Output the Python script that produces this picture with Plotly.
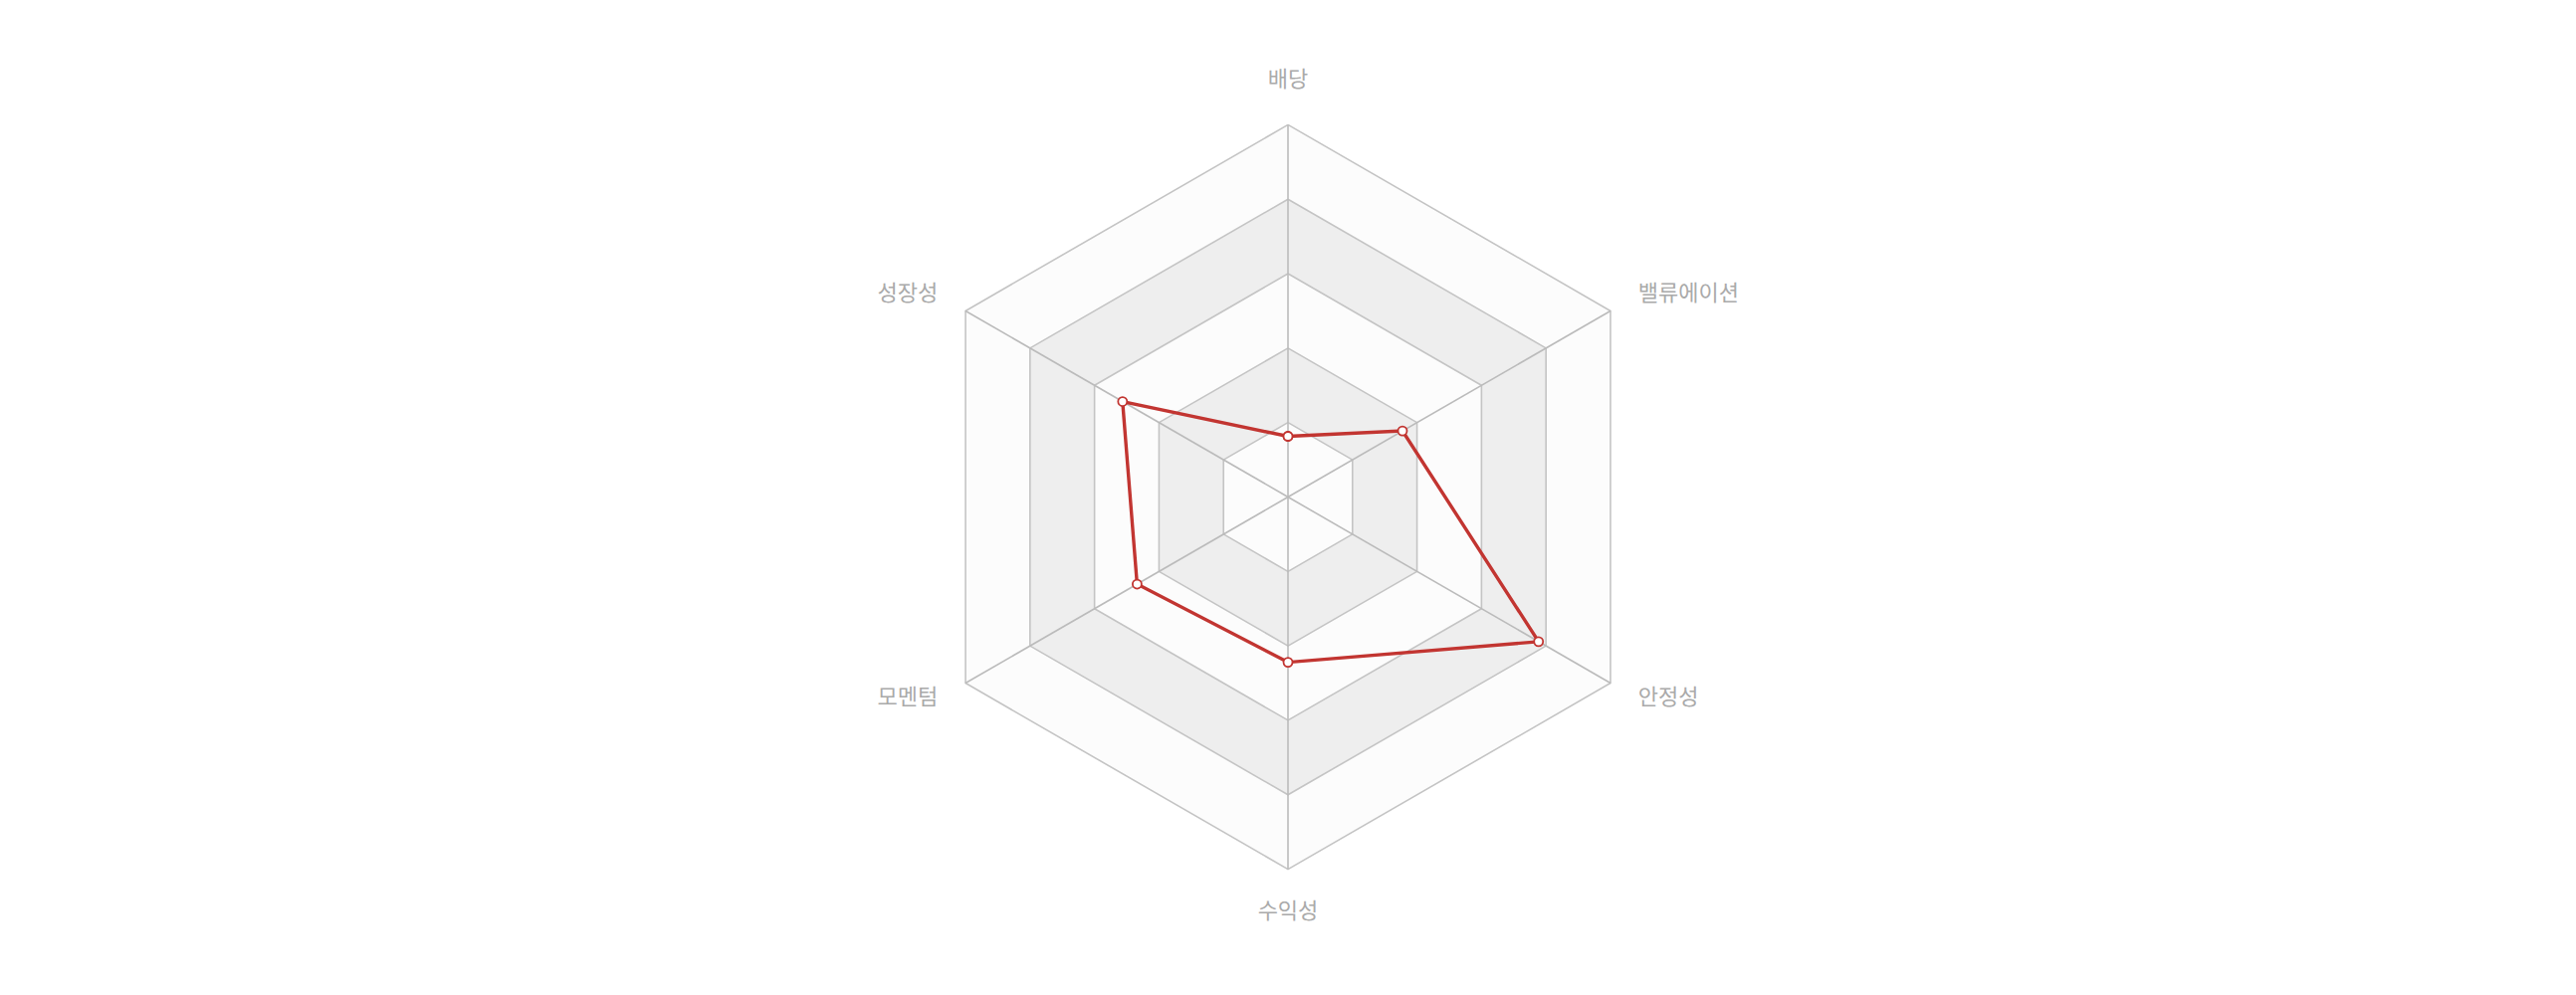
import math
import plotly.graph_objects as go

categories = ["배당", "밸류에이션", "안정성", "수익성", "모멘텀", "성장성"]
values = [16.3, 35.5, 77.7, 44.4, 46.8, 51.3]
ring_levels = [100, 80, 60, 40, 20]
band_colors = ["#fcfcfc", "#eeeeee", "#fcfcfc", "#eeeeee", "#fcfcfc"]
r_max = 100
r_axis_max = 110
name_r_side = 108.6  # radial position of side axis names
name_r_end = 108.8   # radial position of top/bottom axis names

fig = go.Figure()

closed = categories + [categories[0]]

# background bands (split areas) with ring outlines
for lvl, col in zip(ring_levels, band_colors):
    fig.add_trace(go.Scatterpolar(
        r=[lvl] * len(closed), theta=closed, mode="lines", fill="toself",
        fillcolor=col, line=dict(color="#c4c4c4", width=1.6),
        cliponaxis=False, hoverinfo="skip", showlegend=False))

# spokes
for c in categories:
    fig.add_trace(go.Scatterpolar(
        r=[0, r_max], theta=[c, c], mode="lines",
        line=dict(color="#bbbbbb", width=1.6), cliponaxis=False,
        hoverinfo="skip", showlegend=False))

# data
fig.add_trace(go.Scatterpolar(
    r=values + [values[0]], theta=closed, mode="lines+markers",
    line=dict(color="#c23531", width=3.4),
    marker=dict(size=9, color="white", line=dict(color="#c23531", width=1.8)),
    cliponaxis=False, showlegend=False))

# axis names, aligned away from the centre like the reference
n = len(categories)
positions = []
name_rs = []
for i in range(n):
    a = 2 * math.pi * i / n
    sx, cy = math.sin(a), math.cos(a)
    h = "right" if sx > 0.1 else ("left" if sx < -0.1 else "center")
    if abs(sx) > 0.1:
        v = "middle"
        name_rs.append(name_r_side)
    else:
        v = "top" if cy > 0 else "bottom"
        name_rs.append(name_r_end)
    positions.append(f"{v} {h}")

fig.add_trace(go.Scatterpolar(
    r=name_rs, theta=categories, mode="text", text=categories,
    textposition=positions,
    textfont=dict(family="Noto Sans CJK KR", size=22, color="#aaaaaa"),
    cliponaxis=False, hoverinfo="skip", showlegend=False))

fig.update_layout(
    width=2588, height=1000,
    margin=dict(l=0, r=16, t=80, b=97),
    paper_bgcolor="white",
    plot_bgcolor="white",
    font=dict(family="Noto Sans CJK KR", size=22, color="#aaaaaa"),
    polar=dict(
        bgcolor="rgba(0,0,0,0)",
        gridshape="linear",
        radialaxis=dict(range=[0, r_axis_max], visible=False, showgrid=False,
                        showline=False, showticklabels=False, layer="below traces"),
        angularaxis=dict(rotation=90, direction="clockwise", type="category",
                         categoryarray=categories,
                         showgrid=False, showline=False, ticks="",
                         showticklabels=False,
                         layer="below traces"),
    ),
)

fig.write_html("out.html")
